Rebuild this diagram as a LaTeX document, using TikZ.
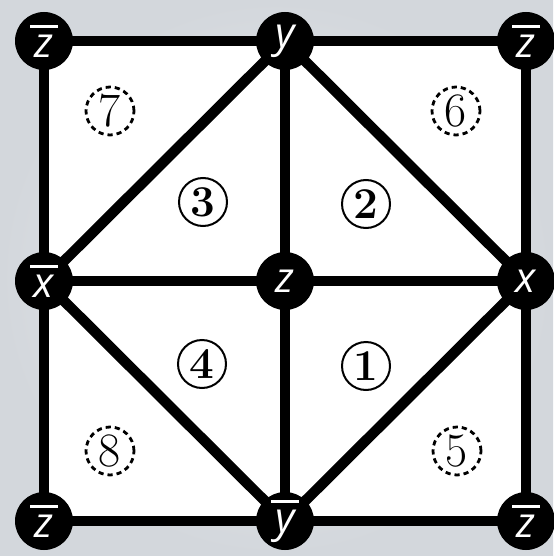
\documentclass[tikz,border=0pt]{standalone}
\usepackage{fontspec}
\newfontfamily\vtxfont{Open Sans}
\usetikzlibrary{backgrounds}
\definecolor{bginner}{HTML}{E9EBEE}
\definecolor{bgouter}{HTML}{D3D7DC}
\newcommand{\barred}[1]{\vbox{\offinterlineskip\halign{\hfil##\hfil\cr\rule{14pt}{1.7pt}\cr\noalign{\vskip3.5pt}#1\cr}}}

\begin{document}
\begin{tikzpicture}[x=0.5pt,y=-0.5pt,
    vtx/.style={circle,fill=black,minimum size=29pt,inner sep=0pt,text=white,font=\vtxfont\itshape\fontsize{21pt}{24pt}\selectfont},
    edge/.style={line width=5.2pt},
    cell/.style={circle,draw,line width=1pt,minimum size=24pt,inner sep=0pt,font=\bfseries\fontsize{22pt}{24pt}\selectfont},
    outer cell/.style={circle,draw,line width=1.4pt,dash pattern=on 2.6pt off 2pt,minimum size=24pt,inner sep=0pt,font=\fontsize{24pt}{26pt}\selectfont}]
    \useasboundingbox (0,0) rectangle (553,556);

    \node[vtx] (zTL) at (44,41) {\barred{z}};
    \node[vtx] (yT) at (285,41) {y};
    \node[vtx] (zTR) at (526,41) {\barred{z}};
    \node[vtx] (xL) at (44,281) {\barred{x}};
    \node[vtx] (zC) at (285,281) {z};
    \node[vtx] (xR) at (526,281) {x};
    \node[vtx] (zBL) at (44,521) {\barred{z}};
    \node[vtx] (yB) at (285,521) {\barred{y}};
    \node[vtx] (zBR) at (526,521) {\barred{z}};

    \node[cell] (n1) at (366,366) {1};
    \node[cell] (n2) at (366,204) {2};
    \node[cell] (n3) at (203,202) {3};
    \node[cell] (n4) at (202,364) {4};
    \node[outer cell] (n5) at (457,451) {5};
    \node[outer cell] (n6) at (456,111) {6};
    \node[outer cell] (n7) at (110,111) {7};
    \node[outer cell] (n8) at (110,451) {8};

    \begin{pgfonlayer}{background}
    \fill[inner color=bginner,outer color=bgouter] (0,0) rectangle (553,556);
    \fill[white] (zTL.center) rectangle (zBR.center);

    \draw[edge] (zTL.center) -- (yT.center) -- (zTR.center) -- (xR.center) -- (zBR.center) -- (yB.center) -- (zBL.center) -- (xL.center) -- cycle;
    \draw[edge] (yT.center) -- (zC.center) -- (yB.center);
    \draw[edge] (xL.center) -- (zC.center) -- (xR.center);
    \draw[edge] (xL.center) -- (yT.center) -- (xR.center) -- (yB.center) -- cycle;
    \end{pgfonlayer}
\end{tikzpicture}
\end{document}
